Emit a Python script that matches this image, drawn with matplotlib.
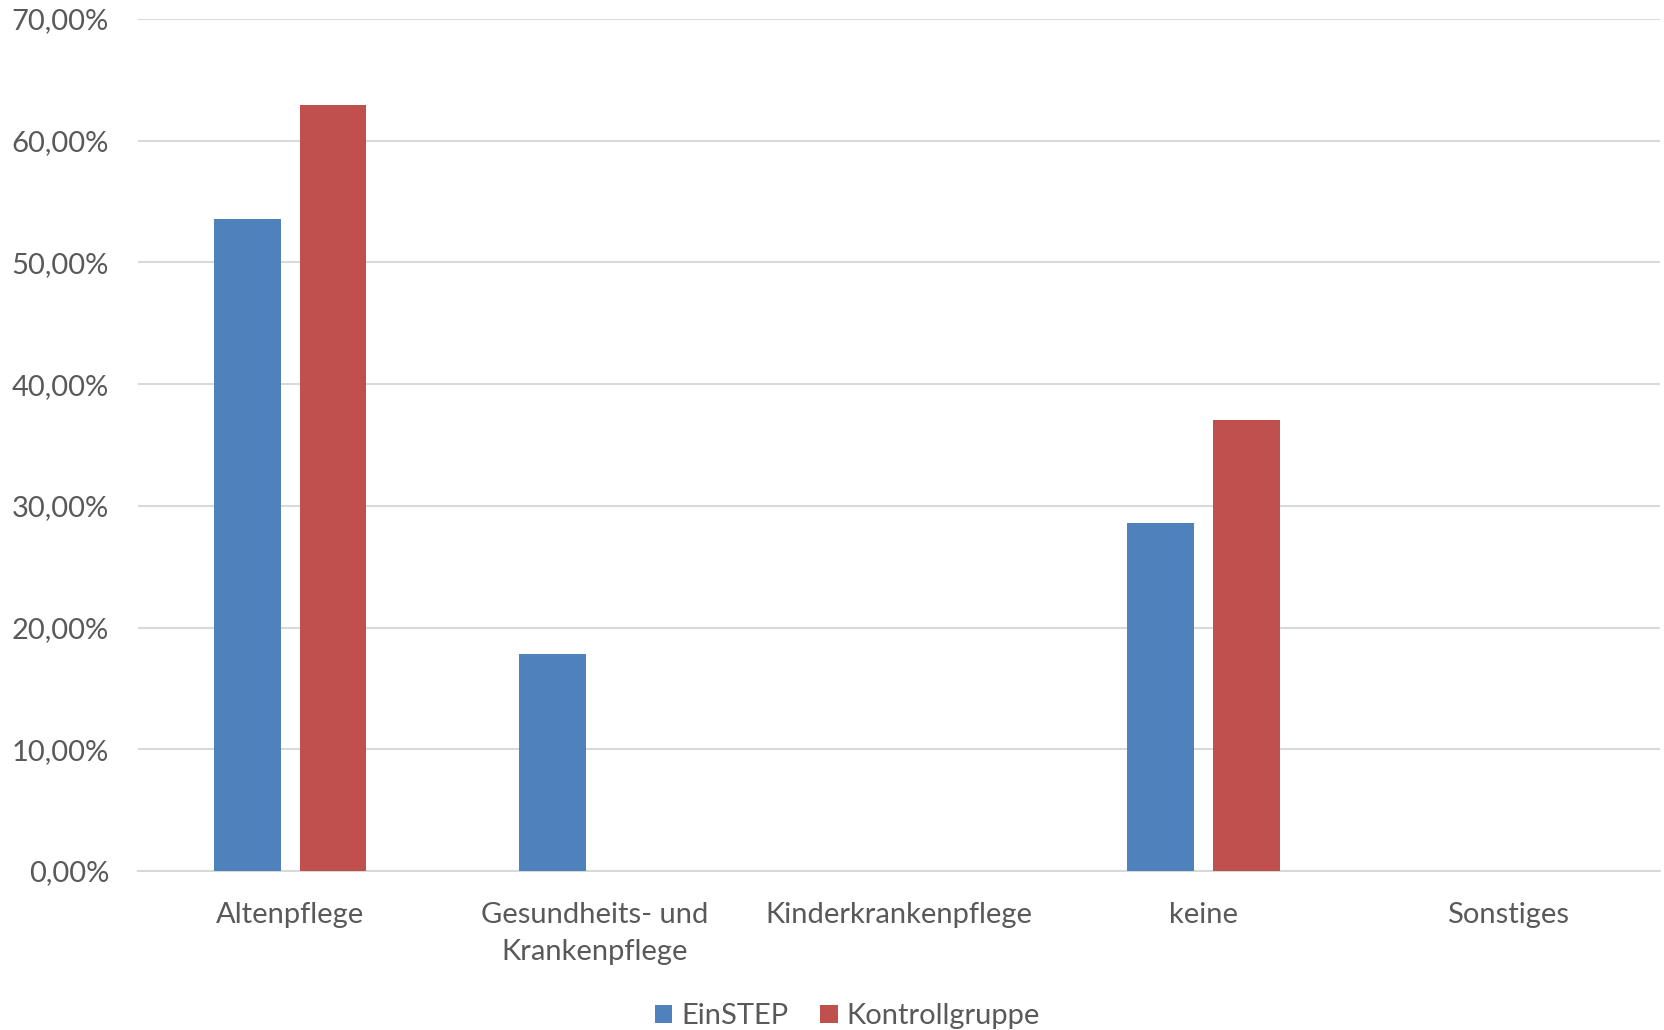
import numpy as np
import matplotlib.pyplot as plt
from matplotlib.ticker import FuncFormatter

categories = ['Altenpflege', 'Gesundheits- und\nKrankenpflege', 'Kinderkrankenpflege', 'keine', 'Sonstiges']
einstep = [53.57, 17.86, 0.0, 28.57, 0.0]
kontroll = [62.96, 0.0, 0.0, 37.04, 0.0]
series_names = ['EinSTEP', 'Kontrollgruppe']

plt.rcParams['font.family'] = ['Lato', 'DejaVu Sans']
grey = '#595959'

fig = plt.figure(figsize=(16.65, 10.3), dpi=100)
ax = fig.add_axes([0.083, 0.1544, 0.914, 0.8272])

x = np.arange(len(categories))
w = 0.22
ax.bar(x - 0.14, einstep, w, color='#4f81bd', label=series_names[0], zorder=3)
ax.bar(x + 0.14, kontroll, w, color='#c0504d', label=series_names[1], zorder=3)

ax.set_xlim(-0.5, len(categories) - 0.5)
ax.set_ylim(0, 70)
ax.set_yticks(np.arange(0, 71, 10))
ax.yaxis.set_major_formatter(FuncFormatter(lambda v, p: ('%.2f%%' % v).replace('.', ',')))
ax.set_xticks(x)
ax.set_xticklabels(categories, linespacing=1.55)
ax.grid(axis='y', color='#d9d9d9', linewidth=1.5, zorder=0)
for s in ['top', 'right', 'left']:
    ax.spines[s].set_visible(False)
ax.spines['bottom'].set_color('#d9d9d9')
ax.spines['bottom'].set_linewidth(1.5)
ax.tick_params(axis='both', length=0, labelsize=21, colors=grey)
ax.tick_params(axis='x', pad=22)
ax.tick_params(axis='y', pad=21)

fig.legend(loc='center', bbox_to_anchor=(0.509, 0.0135), ncol=2, frameon=False,
           fontsize=21, labelcolor=grey, handlelength=0.6, handleheight=0.6,
           handletextpad=0.3, columnspacing=1.1)

fig.savefig('out.png', dpi=100)
